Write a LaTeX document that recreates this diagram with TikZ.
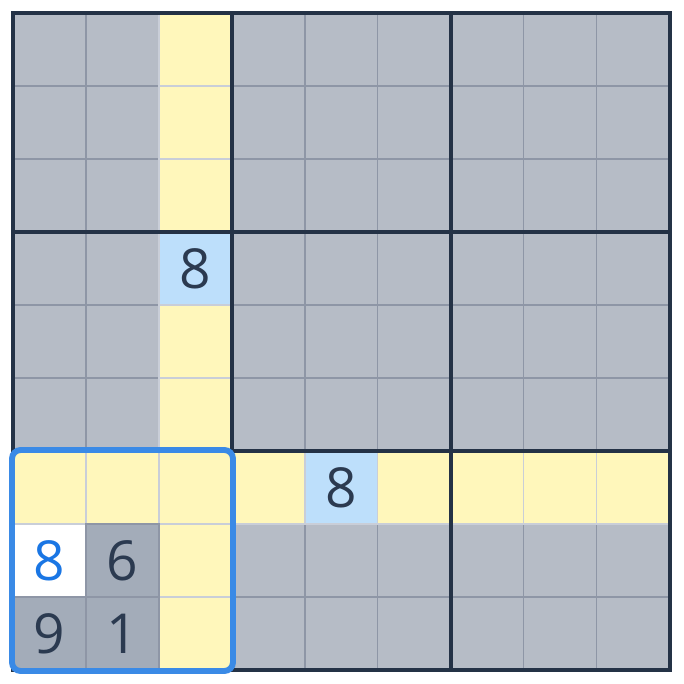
\documentclass[tikz,border=0pt]{standalone}
\usepackage{fontspec}
\setmainfont{Open Sans}
\definecolor{cellgray}{HTML}{B6BCC6}
\definecolor{peeryellow}{HTML}{FFF7BB}
\definecolor{samesky}{HTML}{BDDFFB}
\definecolor{filledgray}{HTML}{A3ACB9}
\definecolor{thingray}{HTML}{8E96A6}
\definecolor{thinlight}{HTML}{C9CED8}
\definecolor{boxnavy}{HTML}{243246}
\definecolor{selblue}{HTML}{3A8AE6}
\definecolor{inkblue}{HTML}{1A76E4}
\definecolor{inknavy}{HTML}{2B3A50}
\def\sq{rectangle ++(1,1)}
\def\dbox{\draw[boxnavy,line width=1.2pt,line cap=rect]}
\tikzset{
  base/.style={fill=cellgray,draw=thingray,line width=0.4pt},
  peer/.style={fill=peeryellow,draw=thinlight,line width=0.4pt},
  same/.style={fill=samesky,draw=thinlight,line width=0.4pt},
  pick/.style={fill=white,draw=thinlight,line width=0.4pt},
  known/.style={fill=filledgray,draw=thingray,line width=0.4pt},
  digit/.style={text=inknavy,font=\fontsize{21.5}{21.5}\selectfont,inner sep=0pt},
}

\begin{document}
\begin{tikzpicture}[x=1cm,y=-1cm]
                \useasboundingbox (-0.178,-0.178) rectangle (9.192,9.192);
                \foreach \c in {0,...,8}
                    \foreach \r in {0,...,8}
                        \draw[base] (\c,\r) \sq;
                \foreach \r in {0,...,8} \draw[peer] (2,\r) \sq;
                \foreach \c in {0,...,8} \draw[peer] (\c,6) \sq;
                \draw[same] (2,3) \sq;
                \draw[same] (4,6) \sq;
                \draw[pick] (0,7) \sq;
                \foreach \c/\r in {1/7,0/8,1/8} \draw[known] (\c,\r) \sq;
                \foreach \k in {0,3,6,9} {
                    \dbox (\k,0) -- (\k,9);
                    \dbox (0,\k) -- (9,\k);
                }
                \draw[selblue,line width=2.3pt,rounded corners=0.12cm]
                    (-0.014,5.986) rectangle (3.014,9.014);
                \node[digit] (d23) at (2.5,3.5) {8};
                \node[digit] (d46) at (4.5,6.5) {8};
                \node[digit,text=inkblue] (d07) at (0.5,7.5) {8};
                \node[digit] (d17) at (1.5,7.5) {6};
                \node[digit] (d08) at (0.5,8.5) {9};
                \node[digit] (d18) at (1.5,8.5) {1};
            \end{tikzpicture}
\end{document}
